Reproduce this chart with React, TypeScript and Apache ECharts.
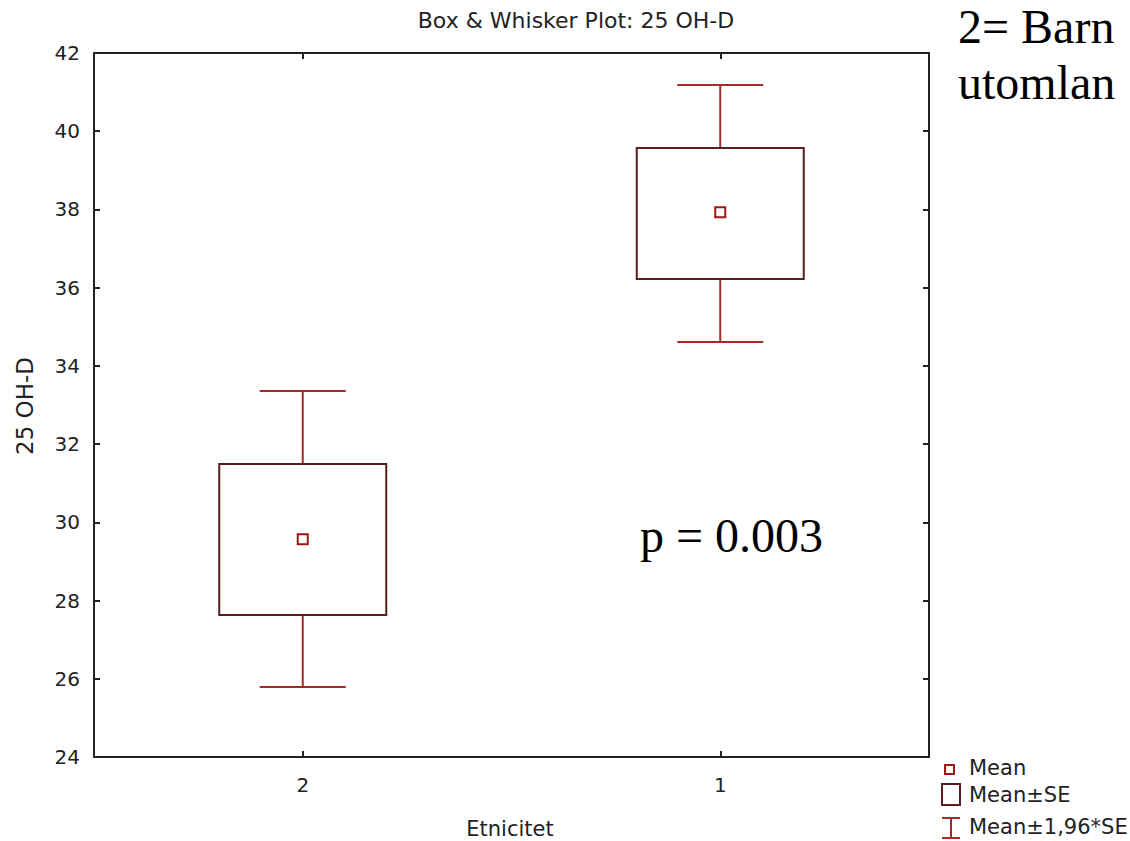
import React, { useEffect, useRef } from "react";
import * as echarts from "echarts";

const categories = ["2", "1"];
const means = [29.57, 37.93];
const seLow = [27.63, 36.22];
const seHigh = [31.49, 39.57];
const ciLow = [25.79, 34.61];
const ciHigh = [33.36, 41.18];
const yMin = 24;
const yMax = 42;
const yStep = 2;

const titleText = "Box & Whisker Plot: 25 OH-D";
const xName = "Etnicitet";
const yName = "25 OH-D";
const legendLabels = ["Mean", "Mean±SE", "Mean±1,96*SE"];
const noteLines = ["2= Barn", "utomlan"];
const pText = "p = 0.003";

const SANS = "'DejaVu Sans', sans-serif";
const SERIF = "'Liberation Serif', 'Times New Roman', serif";
const BOX_COLOR = "#5a1c1c";
const WHISKER_COLOR = "#a52a2a";
const MEAN_COLOR = "#a01414";
const AXIS_COLOR = "#222";

export default function App() {
  const ref = useRef<HTMLDivElement>(null);
  useEffect(() => {
    document.body.style.margin = "0";
    const chart = echarts.init(ref.current!, null, { renderer: "svg" });
    const data = categories.map((c, i) => [i, means[i], seLow[i], seHigh[i], ciLow[i], ciHigh[i]]);
    const axisLabelStyle = { fontFamily: SANS, fontSize: 20, color: AXIS_COLOR };
    const option: any = {
      animation: false,
      backgroundColor: "#fff",
      grid: { left: 94, right: 201, top: 53, bottom: 84, containLabel: false },
      xAxis: [
        {
          type: "category",
          data: categories,
          position: "bottom",
          axisLine: { show: true, lineStyle: { color: AXIS_COLOR, width: 2 } },
          axisTick: { show: true, inside: true, alignWithLabel: true, length: 6, lineStyle: { color: AXIS_COLOR, width: 2 } },
          axisLabel: { ...axisLabelStyle, margin: 18 },
          splitLine: { show: false },
        },
        {
          type: "category",
          data: categories,
          position: "top",
          axisLine: { show: true, lineStyle: { color: AXIS_COLOR, width: 2 } },
          axisTick: { show: true, inside: true, alignWithLabel: true, length: 6, lineStyle: { color: AXIS_COLOR, width: 2 } },
          axisLabel: { show: false },
          splitLine: { show: false },
        },
      ],
      yAxis: [
        {
          type: "value",
          min: yMin,
          max: yMax,
          interval: yStep,
          position: "left",
          axisLine: { show: true, lineStyle: { color: AXIS_COLOR, width: 2 } },
          axisTick: { show: true, inside: true, length: 6, lineStyle: { color: AXIS_COLOR, width: 2 } },
          axisLabel: { ...axisLabelStyle, margin: 14 },
          splitLine: { show: false },
        },
        {
          type: "value",
          min: yMin,
          max: yMax,
          interval: yStep,
          position: "right",
          axisLine: { show: true, lineStyle: { color: AXIS_COLOR, width: 2 } },
          axisTick: { show: true, inside: true, length: 6, lineStyle: { color: AXIS_COLOR, width: 2 } },
          axisLabel: { show: false },
          splitLine: { show: false },
        },
      ],
      series: [
        {
          type: "custom",
          xAxisIndex: 0,
          yAxisIndex: 0,
          data,
          encode: { x: 0, y: [1, 2, 3, 4, 5] },
          renderItem: (params: any, api: any) => {
            const i = api.value(0);
            const bandW = api.size([1, 0])[0];
            const boxW = bandW * 0.4;
            const capW = bandW * 0.206;
            const pMean = api.coord([i, api.value(1)]);
            const pLo = api.coord([i, api.value(2)]);
            const pHi = api.coord([i, api.value(3)]);
            const pCiLo = api.coord([i, api.value(4)]);
            const pCiHi = api.coord([i, api.value(5)]);
            const cx = pMean[0];
            const wStyle = { stroke: WHISKER_COLOR, lineWidth: 2, fill: null };
            return {
              type: "group",
              children: [
                { type: "line", shape: { x1: cx, y1: pHi[1], x2: cx, y2: pCiHi[1] }, style: wStyle },
                { type: "line", shape: { x1: cx - capW / 2, y1: pCiHi[1], x2: cx + capW / 2, y2: pCiHi[1] }, style: wStyle },
                { type: "line", shape: { x1: cx, y1: pLo[1], x2: cx, y2: pCiLo[1] }, style: wStyle },
                { type: "line", shape: { x1: cx - capW / 2, y1: pCiLo[1], x2: cx + capW / 2, y2: pCiLo[1] }, style: wStyle },
                {
                  type: "rect",
                  shape: { x: cx - boxW / 2, y: pHi[1], width: boxW, height: pLo[1] - pHi[1] },
                  style: { stroke: BOX_COLOR, lineWidth: 2, fill: "none" },
                },
                {
                  type: "rect",
                  shape: { x: cx - 5, y: pMean[1] - 5, width: 10, height: 10 },
                  style: { stroke: MEAN_COLOR, lineWidth: 2, fill: "#fff" },
                },
              ],
            };
          },
        },
      ],
      graphic: [
        { type: "text", x: 576, y: 20, style: { text: titleText, font: `22px ${SANS}`, fill: AXIS_COLOR, align: "center", verticalAlign: "middle" } },
        { type: "text", x: 510, y: 829, style: { text: xName, font: `21px ${SANS}`, fill: AXIS_COLOR, align: "center", verticalAlign: "middle" } },
        { type: "text", x: 25, y: 406, rotation: Math.PI / 2, style: { text: yName, font: `23px ${SANS}`, fill: AXIS_COLOR, align: "center", verticalAlign: "middle" } },
        { type: "text", x: 958, y: 26, style: { text: noteLines[0], font: `48px ${SERIF}`, fill: "#000", align: "left", verticalAlign: "middle" } },
        { type: "text", x: 958, y: 82, style: { text: noteLines[1], font: `48px ${SERIF}`, fill: "#000", align: "left", verticalAlign: "middle" } },
        { type: "text", x: 640, y: 535, style: { text: pText, font: `48px ${SERIF}`, fill: "#000", align: "left", verticalAlign: "middle" } },
        // legend
        { type: "rect", shape: { x: 945, y: 765, width: 9, height: 9 }, style: { stroke: MEAN_COLOR, lineWidth: 2, fill: "#fff" } },
        { type: "text", x: 969, y: 768, style: { text: legendLabels[0], font: `21px ${SANS}`, fill: AXIS_COLOR, align: "left", verticalAlign: "middle" } },
        { type: "rect", shape: { x: 942, y: 784, width: 18, height: 21 }, style: { stroke: BOX_COLOR, lineWidth: 2, fill: "#fff" } },
        { type: "text", x: 969, y: 795, style: { text: legendLabels[1], font: `21px ${SANS}`, fill: AXIS_COLOR, align: "left", verticalAlign: "middle" } },
        { type: "line", shape: { x1: 951, y1: 818, x2: 951, y2: 838 }, style: { stroke: WHISKER_COLOR, lineWidth: 2 } },
        { type: "line", shape: { x1: 942, y1: 818, x2: 960, y2: 818 }, style: { stroke: WHISKER_COLOR, lineWidth: 2 } },
        { type: "line", shape: { x1: 942, y1: 838, x2: 960, y2: 838 }, style: { stroke: WHISKER_COLOR, lineWidth: 2 } },
        { type: "text", x: 969, y: 827, style: { text: legendLabels[2], font: `21px ${SANS}`, fill: AXIS_COLOR, align: "left", verticalAlign: "middle" } },
      ],
    };
    chart.setOption(option);
    return () => chart.dispose();
  }, []);
  return <div ref={ref} style={{ position: "absolute", left: 0, top: 0, width: 1130, height: 841 }} />;
}
